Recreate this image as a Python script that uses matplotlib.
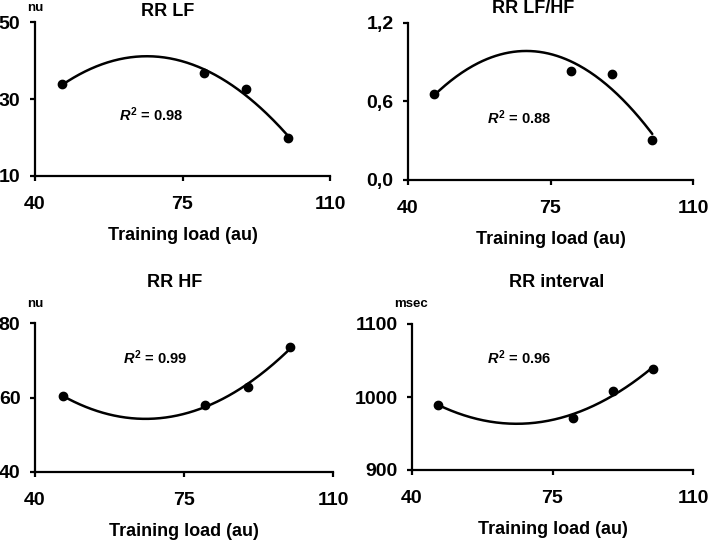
import numpy as np
import matplotlib
matplotlib.use("Agg")
import matplotlib.pyplot as plt

plt.rcParams['font.family'] = ['Liberation Sans', 'DejaVu Sans']
plt.rcParams['mathtext.fontset'] = 'custom'
plt.rcParams['mathtext.rm'] = 'Liberation Sans:bold'
plt.rcParams['mathtext.it'] = 'Liberation Sans:italic:bold'
plt.rcParams['mathtext.bf'] = 'Liberation Sans:bold'

training_load = [46.5, 80.0, 90.0, 100.0]
rr_lf = [33.8, 36.7, 32.6, 19.8]
rr_lfhf = [0.656, 0.83, 0.814, 0.304]
rr_hf = [60.4, 58.0, 62.9, 73.5]
rr_interval = [989.6, 971.8, 1008.9, 1038.0]

x_ticks = [40, 75, 110]
x_ticklabels = ["40", "75", "110"]

panels = [
    dict(title="RR LF", y=rr_lf, yticks=[10, 30, 50], ylabels=["10", "30", "50"],
         r2="0.98", unit="nu",
         rect=[35, 22, 330, 176], title_xy=(168, 16), unit_xy=(35, 11), r2_xy=(151, 115)),
    dict(title="RR LF/HF", y=rr_lfhf, yticks=[0.0, 0.6, 1.2], ylabels=["0,0", "0,6", "1,2"],
         r2="0.88", unit=None,
         rect=[408, 23, 693, 180], title_xy=(533, 13), unit_xy=None, r2_xy=(519, 118)),
    dict(title="RR HF", y=rr_hf, yticks=[40, 60, 80], ylabels=["40", "60", "80"],
         r2="0.99", unit="nu",
         rect=[35, 323, 333, 472], title_xy=(175, 287), unit_xy=(35, 307), r2_xy=(155, 358)),
    dict(title="RR interval", y=rr_interval, yticks=[900, 1000, 1100], ylabels=["900", "1000", "1100"],
         r2="0.96", unit="msec",
         rect=[412, 324, 693, 470], title_xy=(557, 287), unit_xy=(411, 307), r2_xy=(519, 358)),
]

W, H = 709, 542
fig = plt.figure(figsize=(W / 100, H / 100), dpi=100)
fig.patch.set_facecolor("white")

for p in panels:
    l, t, r, b = p["rect"]
    ax = fig.add_axes([l / W, 1 - b / H, (r - l) / W, (b - t) / H])
    x = np.array(training_load)
    y = np.array(p["y"])
    coef = np.polyfit(x, y, 2)
    xs = np.linspace(x.min(), x.max(), 200)
    ax.plot(xs, np.polyval(coef, xs), color="black", lw=1.8, solid_capstyle="round", zorder=2)
    ax.plot(x, y, "o", color="black", ms=6, zorder=3)
    ax.set_xlim(40, 110)
    ax.set_ylim(p["yticks"][0], p["yticks"][-1])
    ax.set_xticks(x_ticks)
    ax.set_xticklabels(x_ticklabels, fontsize=14, fontweight="bold")
    ax.set_yticks(p["yticks"])
    ax.set_yticklabels(p["ylabels"], fontsize=14, fontweight="bold")
    for s in ["top", "right"]:
        ax.spines[s].set_visible(False)
    for s in ["left", "bottom"]:
        ax.spines[s].set_linewidth(1.6)
    ax.tick_params(axis="both", direction="out", length=3.5, width=1.6)
    ax.tick_params(axis="x", pad=11)
    ax.tick_params(axis="y", pad=7)
    ax.set_xlabel("Training load (au)", fontsize=13, fontweight="bold", labelpad=10)
    ax.patch.set_alpha(0)
    tx, ty = p["title_xy"]
    fig.text(tx / W, 1 - ty / H, p["title"], fontsize=13, fontweight="bold",
             ha="center", va="baseline")
    if p["unit"]:
        ux, uy = p["unit_xy"]
        fig.text(ux / W, 1 - uy / H, p["unit"], fontsize=9.5, fontweight="bold",
                 ha="center", va="baseline")
    rx, ry = p["r2_xy"]
    fig.text(rx / W, 1 - ry / H, r"$\mathit{R}^{2}$" + " = " + p["r2"],
             fontsize=10.5, fontweight="bold", ha="center", va="center")

fig.savefig("out.png", dpi=100, facecolor="white")
